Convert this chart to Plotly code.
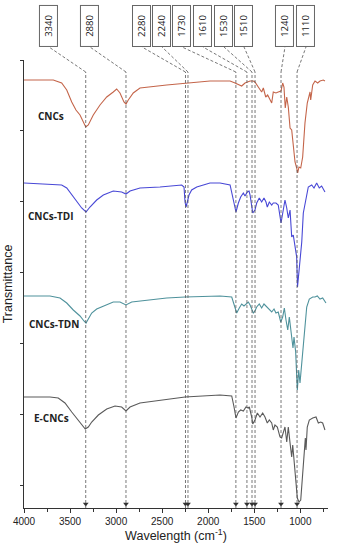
import math
import plotly.graph_objects as go

# ---------------- data (wavenumber in cm^-1, transmittance in arbitrary units, offset stacked) ----------------
wn_cncs = [4000,3682,3591,3536,3482,3436,3392,3356,3330,3302,3248,3175,3102,3031,2994,2958,2915,2893,2868,2814,
           2741,2451,2252,2089,1981,1872,1763,1709,1637,1601,1546,1511,1493,1457,1420,1402,1376,1355,1330,1311,
           1294,1265,1240,1210,1192,1178,1164,1148,1131,1112,1094,1077,1058,1040,1029,1015,996,975,950,925,
           895,888,866,841,812,787,751,733]
t_cncs = [428,428,425,418,406,398,393,386,381,383,393,403,411,416,419,415,406,404,408,415,
          420,423,425,426,427,427,427,425,422,425,427,427,426,421,416,420,411,413,408,405,
          416,415,416,417,425,421,400,411,401,380,378,365,346,340,335,341,340,351,385,405,
          416,408,423,427,425,427,428,427]

wn_tdi = [4000,3754,3591,3536,3482,3428,3374,3327,3284,3211,3139,3031,2940,2893,2849,2741,2524,2288,2263,2252,
          2241,2227,2209,2180,2125,1981,1872,1763,1734,1709,1699,1673,1648,1619,1601,1576,1557,1546,1528,1517,
          1493,1474,1446,1420,1395,1373,1359,1337,1311,1294,1265,1240,1210,1192,1167,1148,1131,1112,1094,1077,
          1058,1040,1031,1015,1004,985,968,939,914,877,852,823,795,769,733]
t_tdi = [325,324,323,320,313,306,300,296,301,308,313,317,316,314,317,320,321,323,321,306,
         301,306,313,318,321,325,325,323,311,298,296,305,311,315,312,316,317,313,300,295,
         298,305,310,306,310,306,301,306,303,305,305,303,285,295,308,300,290,298,271,273,
         261,251,221,238,245,266,295,311,321,323,320,325,320,322,316]

wn_tdn = [4000,3718,3609,3536,3465,3392,3349,3327,3302,3265,3211,3139,3031,2958,2893,2831,2741,2451,2252,1872,
          1745,1720,1691,1663,1637,1612,1583,1565,1546,1528,1511,1493,1474,1446,1420,1395,1366,1337,1311,1286,
          1265,1240,1213,1192,1174,1156,1137,1120,1094,1080,1069,1051,1033,1018,1004,985,960,931,903,866,
          841,816,787,758,722]
t_tdn = [212,212,210,205,198,192,187,185,189,195,199,202,206,206,203,206,207,210,211,212,
         211,203,195,200,204,202,205,206,203,199,195,197,201,204,200,204,201,198,196,199,
         195,196,186,191,200,188,178,191,168,160,171,156,118,138,125,145,178,201,209,211,
         211,212,209,210,205]

wn_ecncs = [4000,3718,3628,3555,3482,3411,3356,3335,3302,3265,3193,3102,3012,2940,2893,2849,2741,2451,2252,1872,
            1745,1720,1699,1673,1648,1619,1590,1565,1554,1528,1517,1493,1467,1438,1409,1384,1359,1337,1311,1294,
            1276,1250,1221,1203,1185,1167,1148,1131,1112,1094,1083,1069,1047,1033,1015,996,975,960,946,939,
            925,903,866,830,805,779,758,733]
t_ecncs = [111,111,110,105,96,88,81,79,81,86,93,99,102,101,97,101,105,109,111,113,
           112,101,90,96,98,97,101,100,101,91,84,88,95,91,95,91,85,88,85,78,
           83,81,71,70,76,81,66,81,65,51,63,45,25,10,6,8,38,61,70,58,
           81,88,90,91,85,86,85,78]

series_names = ["CNCs", "CNCs-TDI", "CNCs-TDN", "E-CNCs"]
series_colors = ["#c4654a", "#4848d6", "#4f929c", "#5a5a5a"]
# label anchor positions (wavenumber, transmittance units)
label_wn = [3707, 3707, 3674, 3700]
label_t = [392, 292, 184, 90]

peak_labels = ["3340", "2880", "2280", "2240", "1730", "1610", "1530", "1510", "1240", "1110"]
peak_lines = [3330, 2893, 2247, 2220, 1700, 1580, 1525, 1492, 1210, 1036]
box_wn = [3729, 3284, 2719, 2502, 2285, 2057, 1829, 1612, 1167, 939]

x_ticks = [4000, 3500, 3000, 2500, 2000, 1500, 1000]
y_ticks = [23, 94, 165, 236, 307, 378, 448]

# ---------------- figure ----------------
X_RANGE = [4000, 700]
Y_RANGE = [0, 448]
ML, MR, MT, MB = 24, 13, 60, 42
W, H = 341, 550
plot_w = W - ML - MR
plot_h = H - MT - MB
kx = plot_w / (X_RANGE[0] - X_RANGE[1])   # px per cm^-1
ky = plot_h / (Y_RANGE[1] - Y_RANGE[0])   # px per y unit

LINE_TOP_PX = 72      # top of vertical guide lines (px from top of page)
BOX_BOTTOM_PX = 47    # bottom of label boxes
BOX_CENTER_PX = 26

fig = go.Figure()
for wn, t, name, col in zip([wn_cncs, wn_tdi, wn_tdn, wn_ecncs],
                            [t_cncs, t_tdi, t_tdn, t_ecncs],
                            series_names, series_colors):
    fig.add_trace(go.Scatter(x=wn, y=t, mode="lines", name=name,
                             line=dict(color=col, width=1.1), showlegend=False,
                             hoverinfo="skip"))

annotations = []
shapes = []

# series labels
for name, lx, ly in zip(series_names, label_wn, label_t):
    annotations.append(dict(x=lx, y=ly, xref="x", yref="y", text="<b>" + name + "</b>",
                            showarrow=False, font=dict(family="Open Sans", size=10, color="#222")))

line_top = 1 - (LINE_TOP_PX - MT) / plot_h
box_bottom = 1 + (MT - BOX_BOTTOM_PX) / plot_h
box_center = 1 + (MT - BOX_CENTER_PX) / plot_h
dash_style = dict(color="#555555", width=0.8, dash="3px,2px")

head_angles = []
for lab, lw, bw in zip(peak_labels, peak_lines, box_wn):
    shapes.append(dict(type="line", xref="x", yref="paper", x0=lw, x1=lw, y0=0, y1=line_top,
                       line=dash_style, layer="above"))
    shapes.append(dict(type="line", xref="x", yref="paper", x0=lw, x1=bw, y0=line_top, y1=box_bottom,
                       line=dash_style, layer="above"))
    annotations.append(dict(x=bw, y=box_center, xref="x", yref="paper", text=lab, textangle=-90,
                            xanchor="center", yanchor="middle",
                            showarrow=False, font=dict(family="Open Sans", size=9.5, color="#222"),
                            bordercolor="#666", borderwidth=1, borderpad=2, bgcolor="white",
                            width=36, height=13))
    dxp = (lw - bw) * kx
    dyp = LINE_TOP_PX - BOX_BOTTOM_PX
    head_angles.append(math.degrees(math.atan2(-dxp, dyp)))

# arrowheads at the bottom axis
fig.add_trace(go.Scatter(x=peak_lines, y=[4.0 / ky] * len(peak_lines), mode="markers",
                         marker=dict(symbol="triangle-down", size=5, color="#333"),
                         showlegend=False, hoverinfo="skip", cliponaxis=False))
# arrowheads pointing into the label boxes
y_head = Y_RANGE[1] + (MT - BOX_BOTTOM_PX - 3.5) / ky
fig.add_trace(go.Scatter(x=box_wn, y=[y_head] * len(box_wn), mode="markers",
                         marker=dict(symbol="triangle-up", size=5, color="#333", angle=head_angles),
                         showlegend=False, hoverinfo="skip", cliponaxis=False))

fig.update_layout(
    width=W, height=H,
    margin=dict(l=ML, r=MR, t=MT, b=MB, autoexpand=False),
    paper_bgcolor="white", plot_bgcolor="white",
    shapes=shapes, annotations=annotations,
    font=dict(family="Liberation Sans, Arial", color="#222"),
    xaxis=dict(range=X_RANGE, tickvals=x_ticks, ticks="outside", ticklen=4, tickwidth=1,
               tickcolor="#333", showline=True, linecolor="#333", linewidth=1, mirror=False,
               showgrid=False, zeroline=False,
               minor=dict(dtick=250, ticks="outside", ticklen=2.5, tickcolor="#333"),
               tickfont=dict(size=10, color="#222"),
               title=dict(text="Wavelength (cm<sup>-1</sup>)", font=dict(size=12.5, color="#222"),
                          standoff=4)),
    yaxis=dict(range=Y_RANGE, tickvals=y_ticks, showticklabels=False, ticks="outside", ticklen=3,
               tickcolor="#333", showline=True, linecolor="#333", linewidth=1,
               showgrid=False, zeroline=False,
               title=dict(text="Transmittance", font=dict(size=12.5, color="#222"), standoff=4)),
)

fig.write_html("out.html", config={"displayModeBar": False},
               post_script="document.body.style.margin='0';")
